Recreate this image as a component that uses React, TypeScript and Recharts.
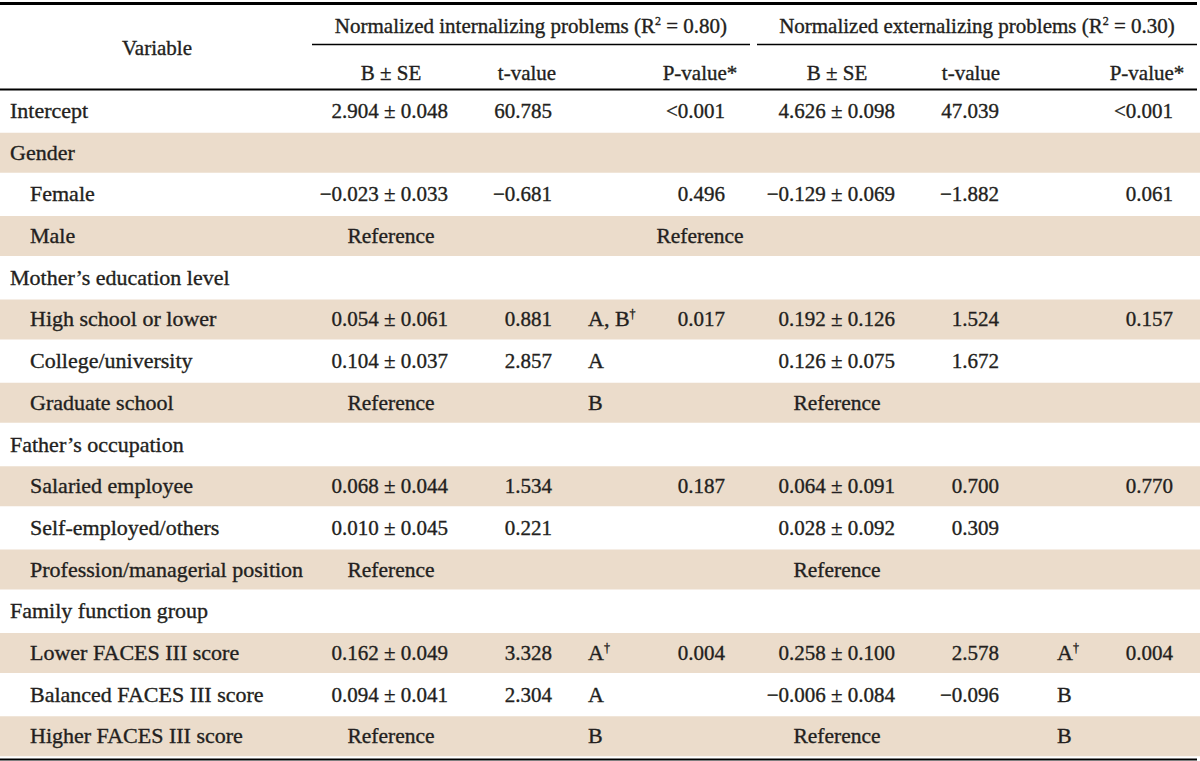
import React from "react";
import { BarChart, Bar, XAxis, YAxis, Cell, LabelList, Customized } from "recharts";

// Rows of the regression table (top to bottom)
const rowLabels = [
  "Intercept",
  "Gender",
  "Female",
  "Male",
  "Mother\u2019s education level",
  "High school or lower",
  "College/university",
  "Graduate school",
  "Father\u2019s occupation",
  "Salaried employee",
  "Self-employed/others",
  "Profession/managerial position",
  "Family function group",
  "Lower FACES III score",
  "Balanced FACES III score",
  "Higher FACES III score",
];
const rowIndent = [0, 0, 1, 1, 0, 1, 1, 1, 0, 1, 1, 1, 0, 1, 1, 1];
const rowShaded = [0, 1, 0, 1, 0, 1, 0, 1, 0, 1, 0, 1, 0, 1, 0, 1];

// Normalized internalizing problems
const intB = ["2.904 \u00b1 0.048", "", "\u22120.023 \u00b1 0.033", "Reference", "", "0.054 \u00b1 0.061", "0.104 \u00b1 0.037", "Reference", "", "0.068 \u00b1 0.044", "0.010 \u00b1 0.045", "Reference", "", "0.162 \u00b1 0.049", "0.094 \u00b1 0.041", "Reference"];
const intT = ["60.785", "", "\u22120.681", "", "", "0.881", "2.857", "", "", "1.534", "0.221", "", "", "3.328", "2.304", ""];
const intGroup = ["", "", "", "", "", "A, B\u2020", "A", "B", "", "", "", "", "", "A\u2020", "A", "B"];
const intP = ["<0.001", "", "0.496", "Reference", "", "0.017", "", "", "", "0.187", "", "", "", "0.004", "", ""];

// Normalized externalizing problems
const extB = ["4.626 \u00b1 0.098", "", "\u22120.129 \u00b1 0.069", "", "", "0.192 \u00b1 0.126", "0.126 \u00b1 0.075", "Reference", "", "0.064 \u00b1 0.091", "0.028 \u00b1 0.092", "Reference", "", "0.258 \u00b1 0.100", "\u22120.006 \u00b1 0.084", "Reference"];
const extT = ["47.039", "", "\u22121.882", "", "", "1.524", "1.672", "", "", "0.700", "0.309", "", "", "2.578", "\u22120.096", ""];
const extGroup = ["", "", "", "", "", "", "", "", "", "", "", "", "", "A\u2020", "B", "B"];
const extP = ["<0.001", "", "0.061", "", "", "0.157", "", "", "", "0.770", "", "", "", "0.004", "", ""];

const W = 1200;
const H = 761;
const FONT = "'Liberation Serif', 'Times New Roman', serif";
const INK = "#231f20";
const SHADE = "#ebdccb";
const WEIGHT = { stroke: INK, strokeWidth: 0.35 };

const tableData = rowLabels.map((label, i) => ({
  row: `r${i}`,
  span: W,
  label,
  intB: intB[i],
  intT: intT[i],
  intGroup: intGroup[i],
  intP: intP[i],
  extB: extB[i],
  extT: extT[i],
  extGroup: extGroup[i],
  extP: extP[i],
}));

// column layout: numbers right aligned, "Reference" centred, group letters left aligned
const columns = [
  { key: "intB", right: 448, center: 391 },
  { key: "intT", right: 552, center: 527 },
  { key: "intGroup", left: 588 },
  { key: "intP", right: 725, center: 700 },
  { key: "extB", right: 895, center: 837 },
  { key: "extT", right: 999, center: 971 },
  { key: "extGroup", left: 1057 },
  { key: "extP", right: 1173, center: 1147 },
];

function withDagger(text: string) {
  const parts = text.split("\u2020");
  if (parts.length === 1) return text;
  return (
    <>
      <tspan>{parts[0]}</tspan>
      <tspan dy={-8} fontSize={12}>{"\u2020"}</tspan>
    </>
  );
}

const cellRenderer = (col: any) => (props: any) => {
  const { value, index } = props;
  if (!value) return null;
  const vb = props.viewBox || props;
  const cy = vb.y + vb.height / 2 + 7;
  let x = col.left;
  let anchor = "start";
  let size = 21;
  if (col.left === undefined) {
    if (value === "Reference") {
      x = col.center;
      anchor = "middle";
      size = 21.5;
    } else {
      x = col.right;
      anchor = "end";
    }
  } else {
    size = 22;
  }
  return (
    <text key={`${col.key}-${index}`} x={vb.x + x} y={cy} textAnchor={anchor} fontFamily={FONT} fontSize={size} fill={INK} {...WEIGHT}>
      {withDagger(String(value))}
    </text>
  );
};

const labelRenderer = (props: any) => {
  const { value, index } = props;
  const vb = props.viewBox || props;
  const cy = vb.y + vb.height / 2 + 7;
  return (
    <text key={`label-${index}`} x={vb.x + (rowIndent[index] ? 30 : 10)} y={cy} fontFamily={FONT} fontSize={22} fill={INK} {...WEIGHT}>
      {value}
    </text>
  );
};

function TableHeader() {
  const t = { fontFamily: FONT, fontSize: 21, fill: INK, ...WEIGHT } as const;
  return (
    <g>
      <line x1={0} x2={1197} y1={3.5} y2={3.5} stroke="#000" strokeWidth={3} />
      <text {...t} x={157} y={55} textAnchor="middle">Variable</text>
      <text {...t} x={531} y={33} textAnchor="middle">
        <tspan>Normalized internalizing problems (R</tspan>
        <tspan dy={-8} fontSize={12}>2</tspan>
        <tspan dy={8}> = 0.80)</tspan>
      </text>
      <text {...t} x={977} y={33} textAnchor="middle">
        <tspan>Normalized externalizing problems (R</tspan>
        <tspan dy={-8} fontSize={12}>2</tspan>
        <tspan dy={8}> = 0.30)</tspan>
      </text>
      <line x1={312} x2={750} y1={44.5} y2={44.5} stroke="#000" strokeWidth={1.3} />
      <line x1={757} x2={1197} y1={44.5} y2={44.5} stroke="#000" strokeWidth={1.3} />
      <text {...t} x={391} y={80} textAnchor="middle">B ± SE</text>
      <text {...t} x={527} y={80} textAnchor="middle">t-value</text>
      <text {...t} x={700} y={80} textAnchor="middle">P-value*</text>
      <text {...t} x={837} y={80} textAnchor="middle">B ± SE</text>
      <text {...t} x={971} y={80} textAnchor="middle">t-value</text>
      <text {...t} x={1147} y={80} textAnchor="middle">P-value*</text>
      <line x1={0} x2={1197} y1={89.5} y2={89.5} stroke="#000" strokeWidth={2} />
      <line x1={0} x2={1197} y1={759.5} y2={759.5} stroke="#000" strokeWidth={2} />
    </g>
  );
}

export default function App() {
  return (
    <div style={{ position: "absolute", left: 0, top: 0, width: W, height: H, background: "#fff" }}>
      <BarChart
        width={W}
        height={H}
        data={tableData}
        layout="vertical"
        margin={{ top: 90, right: 0, bottom: 4, left: 0 }}
        barCategoryGap={1}
      >
        <XAxis type="number" domain={[0, W]} hide />
        <YAxis type="category" dataKey="row" hide />
        <Bar dataKey="span" isAnimationActive={false}>
          {tableData.map((d, i) => (
            <Cell key={d.row} fill={rowShaded[i] ? SHADE : "#ffffff"} />
          ))}
          <LabelList dataKey="label" content={labelRenderer} />
          {columns.map((col) => (
            <LabelList key={col.key} dataKey={col.key} content={cellRenderer(col)} />
          ))}
        </Bar>
        <Customized component={<TableHeader />} />
      </BarChart>
    </div>
  );
}
